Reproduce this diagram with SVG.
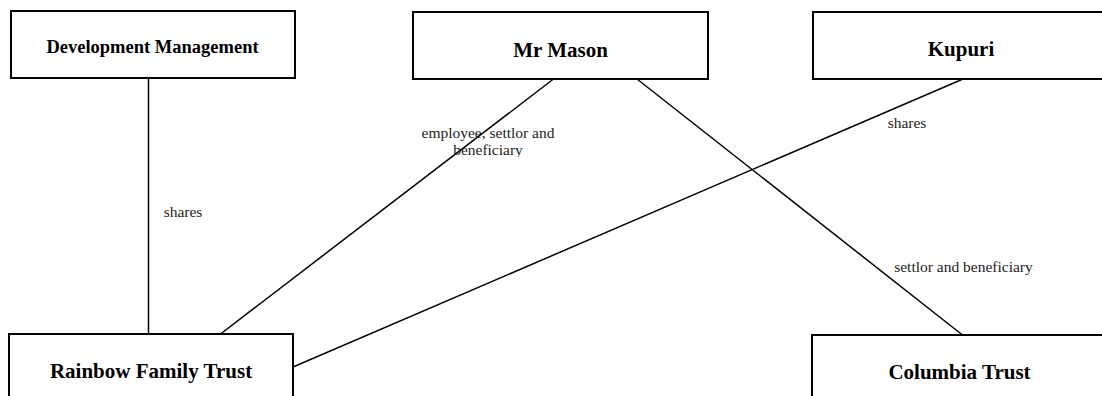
<svg xmlns="http://www.w3.org/2000/svg" width="1102" height="396" viewBox="0 0 1102 396">
<style>
.box{fill:#fff;stroke:#000;stroke-width:2}
.title{font-family:"Liberation Serif","Times New Roman",serif;font-weight:bold;font-size:21px;fill:#000;text-anchor:middle}
.lbl{font-family:"Liberation Serif","Times New Roman",serif;font-size:15.5px;fill:#222;text-anchor:middle}
.conn{stroke:#000;stroke-width:1.5;fill:none}
</style>
<defs>
<clipPath id="clipB"><rect x="400" y="140" width="180" height="17"/></clipPath>
</defs>
<rect width="1102" height="396" fill="#fff"/>
<g id="connectors">
<line class="conn" x1="148.5" y1="78" x2="148.5" y2="334"/>
<line class="conn" x1="553.5" y1="79" x2="220.5" y2="334"/>
<line class="conn" x1="963" y1="79" x2="293" y2="367"/>
<line class="conn" x1="637" y1="79" x2="962.5" y2="335"/>
</g>
<g id="labels">
<text class="lbl" x="183" y="217">shares</text>
<text class="lbl" x="488" y="138">employee, settlor and</text>
<text class="lbl" x="488" y="155" clip-path="url(#clipB)">beneficiary</text>
<text class="lbl" x="907" y="128">shares</text>
<text class="lbl" x="963.5" y="272">settlor and beneficiary</text>
</g>
<g id="dev-mgmt">
<rect class="box" x="11" y="11" width="284" height="67"/>
<text class="title" x="152.5" y="53" style="font-size:18.5px">Development Management</text>
</g>
<g id="mr-mason">
<rect class="box" x="413" y="12" width="295" height="67"/>
<text class="title" x="560.5" y="57">Mr Mason</text>
</g>
<g id="kupuri">
<rect class="box" x="813" y="12" width="296" height="67"/>
<text class="title" x="961" y="56">Kupuri</text>
</g>
<g id="rainbow">
<rect class="box" x="9" y="334" width="284" height="80"/>
<text class="title" x="151" y="378">Rainbow Family Trust</text>
</g>
<g id="columbia">
<rect class="box" x="812" y="335" width="296" height="80"/>
<text class="title" x="959.5" y="379">Columbia Trust</text>
</g>
</svg>
